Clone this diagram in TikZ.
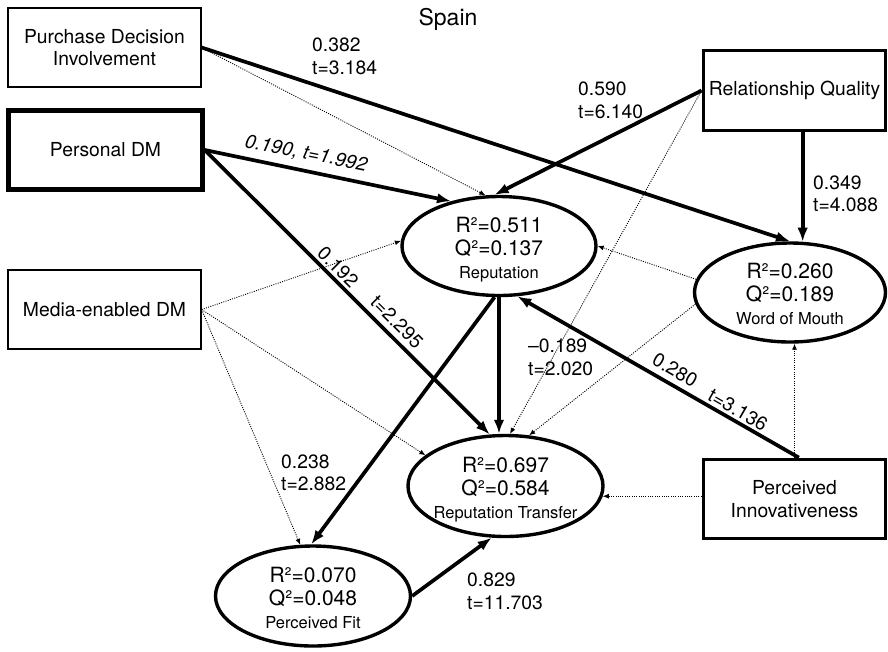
\documentclass[tikz,border=0pt]{standalone}
\usepackage{fontspec}
\setmainfont{TeX Gyre Heros}
\usetikzlibrary{arrows.meta,shapes.geometric}
\newcommand{\elltext}[3]{\makebox[0pt][c]{\raisebox{-10pt}[0pt][0pt]{\fontsize{21}{23}\selectfont\begin{tabular}{@{}c@{}}#1\\#2\\{\fontsize{16.5}{20}\selectfont #3}\end{tabular}}}}
\begin{document}
\begin{tikzpicture}[x=1pt,y=-1pt,
  box/.style={draw, rectangle, inner sep=0pt, align=center, font=\fontsize{19.3}{22.5}\selectfont},
  lat/.style={draw, ellipse, inner sep=0pt, line width=3.4pt},
  strong/.style={line width=3.7pt, -{Latex[length=14pt,width=10.5pt]}},
  weak/.style={line width=0.9pt, dash pattern=on 1pt off 1.3pt, -{Latex[length=6pt,width=5pt]}},
  lbl/.style={font=\fontsize{19.3}{22.5}\selectfont, align=left, inner sep=0pt, anchor=west},
  rlbl/.style={font=\fontsize{19.3}{22.5}\selectfont, inner sep=0pt}]
\useasboundingbox (0,0) rectangle (888,651);

\node[box, line width=1.2pt, minimum width=193pt, minimum height=79pt] (pdi) at (104.5,47.5) {Purchase Decision\\Involvement};
\node[box, line width=4.6pt, minimum width=194pt, minimum height=79pt] (pdm) at (105.5,150) {Personal DM};
\node[box, line width=1.2pt, minimum width=193pt, minimum height=79pt] (med) at (104.5,309.5) {Media-enabled DM};
\node[box, line width=3.8pt, minimum width=182pt, minimum height=80pt] (rq) at (794.5,90.5) {Relationship Quality};
\node[box, line width=3.8pt, minimum width=182pt, minimum height=79pt] (pi) at (794.5,499) {Perceived\\Innovativeness};

\node[lat, minimum width=194pt, minimum height=99pt] (rep) at (499,246) {\elltext{R²=0.511}{Q²=0.137}{Reputation}};
\node[lat, minimum width=191pt, minimum height=99pt] (wom) at (790,292.5) {\elltext{R²=0.260}{Q²=0.189}{Word of Mouth}};
\node[lat, minimum width=195pt, minimum height=101pt] (rt) at (505.5,486) {\elltext{R²=0.697}{Q²=0.584}{Reputation Transfer}};
\node[lat, minimum width=195pt, minimum height=100pt] (pf) at (313,596) {\elltext{R²=0.070}{Q²=0.048}{Perceived Fit}};

\node[font=\fontsize{23}{26}\selectfont] (title) at (448,19) {Spain};

\draw[weak] (pdi.east) -- (rep.105);
\draw[strong] (pdi.east) -- (wom.north);
\draw[strong] (pdm.east) -- (rep.137);
\draw[strong] (pdm.east) -- (rt.107);
\draw[weak] (med.east) -- (rep.177);
\draw[weak] (med.east) -- (rt.159);
\draw[weak] (med.east) -- (pf.104);
\draw[strong] (rq.west) -- (rep.95);
\draw[strong] (wom.76 |- rq.south) -- (wom.76);
\draw[weak] (rq.west) -- (rt.85);
\draw[weak] (wom.172) -- (rep.east);
\draw[weak] (wom.187) -- (rt.65);
\draw[strong] (rep.south) -- (rep.south |- rt.north);
\draw[strong] (rep.265) -- (pf.92);
\draw[strong] (pi.84) -- (rep.290);
\draw[weak] (pi.north) -- (pi.north |- wom.south);
\draw[weak] (pi.west |- rt.354) -- (rt.354);
\draw[strong] (pf.east) -- (rt.255);

\node[lbl] (l1) at (312,56.5) {0.382\\t=3.184};
\node[lbl] (l2) at (578,100.5) {0.590\\t=6.140};
\node[lbl] (l3) at (813,194) {0.349\\t=4.088};
\node[lbl] (l4) at (528,357.5) {–0.189\\t=2.020};
\node[lbl] (l5) at (281,473) {0.238\\t=2.882};
\node[lbl] (l6) at (467,591.5) {0.829\\t=11.703};
\node[rlbl, font=\fontsize{19.3}{22.5}\selectfont\itshape, rotate=-11] (l7) at (306,154) {0.190, t=1.992};
\node[rlbl, rotate=-44.8] (l8) at (338,267) {0.192};
\node[rlbl, rotate=-44.8] (l9) at (397,322) {t=2.295};
\node[rlbl, rotate=-30] (l10) at (675,370) {0.280};
\node[rlbl, rotate=-30] (l11) at (738,410) {t=3.136};
\end{tikzpicture}
\end{document}
